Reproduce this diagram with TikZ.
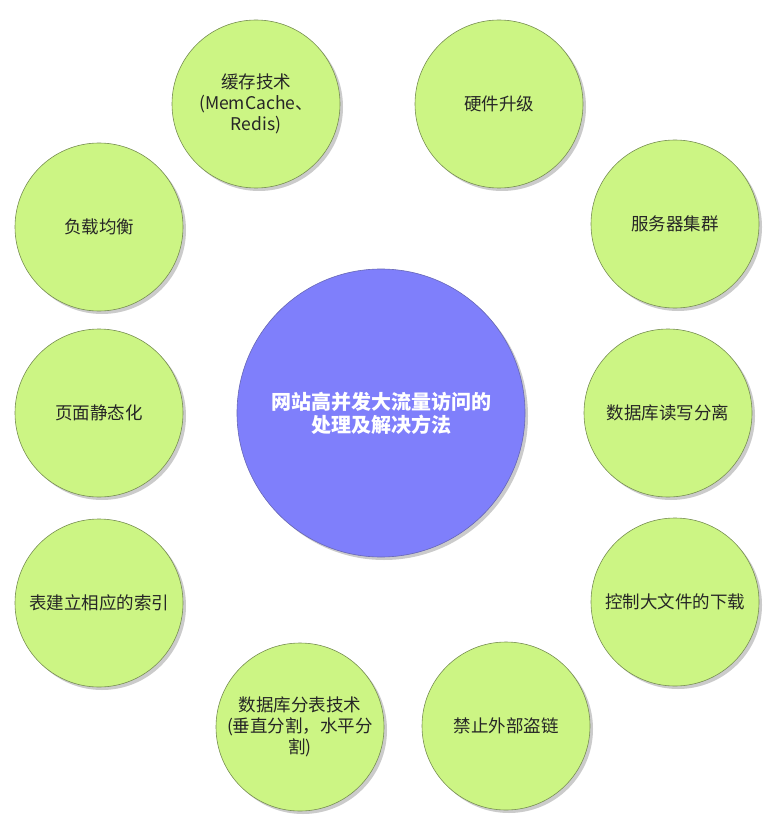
\documentclass[tikz,border=0pt]{standalone}
\usepackage{fontspec}
\setmainfont{Noto Sans CJK SC}
\usetikzlibrary{shadows}
\definecolor{leaf}{HTML}{CCF584}
\definecolor{leafline}{HTML}{778E52}
\definecolor{hub}{HTML}{7F7FFB}
\definecolor{hubline}{HTML}{6767B5}
\definecolor{ink}{HTML}{262626}
\tikzset{
  shade/.style={drop shadow={shadow xshift=3pt,shadow yshift=-3pt,fill=black!45,opacity=0.45}},
  leafnode/.style={circle,minimum size=168pt,inner sep=0pt,fill=leaf,draw=leafline,line width=0.6pt,shade,
    align=center,text=ink,font=\fontsize{17.5pt}{21pt}\selectfont},
  hubnode/.style={circle,minimum size=288pt,inner sep=0pt,fill=hub,draw=hubline,line width=0.6pt,shade,
    align=center,text=white,font=\fontsize{20pt}{23pt}\selectfont\bfseries}
}
\begin{document}
\begin{tikzpicture}[x=1pt,y=-1pt]
\useasboundingbox (0,0) rectangle (777,826);
\node[hubnode] (hub) at (381,413) {网站高并发大流量访问的\\处理及解决方法};
\node[leafnode] (cache) at (256,104) {缓存技术\\(MemCache、\\Redis)};
\node[leafnode] (hw) at (499,104) {硬件升级};
\node[leafnode] (cluster) at (675,224) {服务器集群};
\node[leafnode] (rw) at (668,413) {数据库读写分离};
\node[leafnode] (dl) at (675,602) {控制大文件的下载};
\node[leafnode] (link) at (506,726) {禁止外部盗链};
\node[leafnode] (split) at (300,727) {数据库分表技术\\(垂直分割，水平分\\割)};
\node[leafnode] (index) at (99,603) {表建立相应的索引};
\node[leafnode] (static) at (99,413) {页面静态化};
\node[leafnode] (lb) at (99,227) {负载均衡};
\end{tikzpicture}
\end{document}
